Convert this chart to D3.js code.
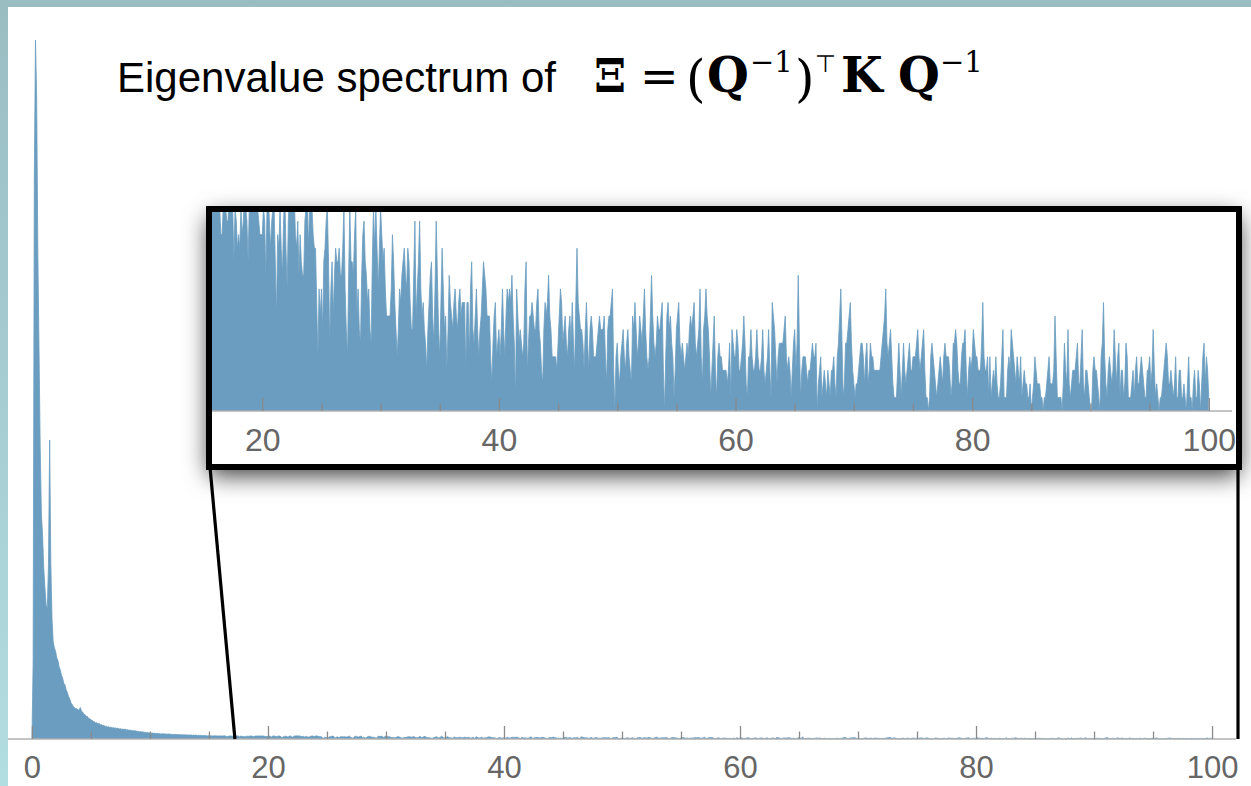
<!DOCTYPE html>
<html>
<head>
<meta charset="utf-8">
<script src="https://cdn.jsdelivr.net/npm/d3@7"></script>
<style>
  html, body { margin: 0; padding: 0; background: #fff; }
  svg { display: block; }
</style>
</head>
<body>
<div id="chart"></div>
<script>
// eigenvalue histogram, bins of width 0.1 starting at 0 (counts per bin)
const binStart = 0;
const binWidth = 0.1;

// 0.0 .. 1.8
const countsSpike = [0, 400, 2900, 3600, 3300, 2500, 2000, 1500, 1160, 1050, 880, 780, 690, 670, 900, 1540, 900, 620, 500];

// 1.9 .. 15.5
const countsDecay = [
  470, 452, 418, 405, 372, 356, 328, 314, 286, 279, 252, 241, 219, 208, 186, 179, 166, 163, 155, 157,
  148, 151, 162, 143, 139, 127, 126, 115, 117, 106, 105, 98, 97, 90, 89, 83, 84, 78, 80, 73,
  74, 69, 70, 65, 66, 62, 63, 59, 61, 57, 59, 56,
  57, 54, 55, 52, 53, 50, 51, 49, 50, 47, 48, 45, 46, 44, 43,
  44, 41, 42, 39, 40, 37, 38, 36, 37, 34, 35, 33, 34, 31, 32,
  30, 31, 29, 30, 28, 29, 27, 28, 26, 27, 26, 27, 25, 26,
  25, 26, 24, 25, 23, 24, 23, 24, 22, 23, 22, 23, 21, 22, 21, 22, 21,
  20, 21, 20, 21, 19, 20, 19, 20, 18, 19, 18, 19, 17, 18, 17, 18, 17,
  16, 17, 16, 17, 16, 16, 17
];

// 15.6 .. 37.0
const countsA = [
  16, 16, 16, 16, 16, 15, 16, 17, 15, 13,
  13, 15, 16, 15, 14, 14, 16, 15, 16, 15,
  11, 15, 14, 12, 13, 12, 15, 13, 14, 16,
  15, 14, 11, 15, 16, 15, 16, 16, 15, 16,
  15, 14, 13, 13, 13, 15, 14, 10, 15, 16,
  14, 12, 14, 15, 15, 11, 7, 13, 12, 15,
  12, 10, 14, 16, 12, 9, 14, 16, 16, 17,
  15, 16, 13, 12, 14, 10, 13, 11, 10, 10,
  14, 15, 16, 12, 15, 16, 15, 13, 12, 12,
  8, 4, 9, 7, 9, 6, 11, 12, 14, 15,
  11, 5, 9, 11, 7, 10, 12, 11, 11, 12,
  10, 10, 12, 15, 9, 6, 4, 10, 15, 11,
  11, 10, 13, 15, 7, 9, 6, 5, 10, 13,
  14, 11, 10, 8, 9, 6, 5, 11, 15, 12,
  15, 12, 9, 12, 15, 13, 11, 12, 9, 7,
  7, 7, 7, 9, 13, 11, 8, 6, 4, 6,
  9, 8, 10, 11, 12, 10, 9, 12, 11, 8,
  6, 6, 10, 14, 7, 9, 11, 14, 9, 7,
  8, 6, 5, 3, 6, 8, 10, 11, 7, 5,
  9, 14, 10, 6, 4, 8, 12, 9, 6, 7,
  3, 6, 10, 8, 7, 6, 8, 9, 7, 6,
  8, 9, 7, 8, 8
];

// 37.1 .. 59.0
const countsB = [
  8, 3, 8, 8, 4, 9, 11, 6, 5, 7,
  9, 6, 4, 6, 7, 9, 11, 10, 9, 7,
  7, 7, 4, 2, 5, 7, 8, 4, 5, 6,
  4, 6, 9, 6, 4, 7, 9, 8, 9, 8,
  10, 7, 5, 1, 9, 7, 5, 6, 5, 4,
  5, 9, 11, 3, 5, 7, 7, 8, 7, 6,
  6, 8, 9, 6, 5, 3, 2, 6, 8, 7,
  8, 10, 7, 6, 4, 4, 4, 4, 3, 5,
  7, 9, 8, 5, 6, 7, 5, 4, 6, 7,
  5, 8, 5, 3, 8, 12, 8, 7, 6, 6,
  5, 3, 6, 8, 5, 3, 6, 7, 6, 4,
  4, 4, 5, 6, 7, 6, 6, 6, 7, 4,
  2, 6, 7, 7, 8, 9, 3, 0, 4, 5,
  3, 2, 4, 5, 6, 4, 3, 5, 6, 4,
  3, 2, 7, 6, 8, 6, 4, 5, 7, 6,
  5, 7, 9, 6, 4, 3, 4, 7, 10, 7,
  5, 4, 5, 7, 6, 6, 7, 8, 3, 0,
  4, 7, 8, 6, 7, 5, 4, 1, 3, 6,
  7, 8, 5, 4, 5, 4, 3, 4, 5, 4,
  6, 7, 6, 7, 8, 5, 4, 5, 6, 9,
  4, 2, 6, 7, 9, 7, 6, 4, 1, 3,
  5, 7, 3, 1, 4, 5, 4, 4, 3, 3
];

// 59.1 .. 81.0
const countsC = [
  3, 3, 2, 3, 5, 1, 6, 5, 4, 4,
  6, 5, 3, 3, 4, 5, 7, 5, 2, 1,
  4, 4, 6, 4, 3, 3, 4, 6, 4, 3,
  3, 4, 6, 3, 2, 3, 4, 6, 3, 1,
  8, 7, 6, 4, 2, 4, 5, 5, 5, 5,
  6, 7, 4, 3, 4, 3, 1, 3, 5, 6,
  3, 5, 10, 5, 1, 3, 4, 4, 4, 3,
  2, 3, 3, 4, 5, 4, 4, 5, 0, 2,
  3, 4, 1, 2, 3, 2, 1, 3, 2, 1,
  3, 3, 4, 2, 1, 4, 5, 7, 9, 5,
  1, 2, 5, 5, 6, 7, 8, 5, 3, 2,
  1, 2, 2, 3, 4, 5, 5, 4, 2, 4,
  5, 2, 3, 5, 4, 4, 3, 3, 3, 3,
  3, 3, 4, 5, 6, 7, 9, 5, 4, 5,
  6, 4, 2, 1, 1, 1, 3, 5, 3, 1,
  3, 5, 3, 2, 3, 4, 5, 3, 3, 4,
  4, 4, 5, 6, 4, 3, 4, 5, 6, 3,
  1, 1, 0, 1, 4, 5, 4, 3, 2, 1,
  2, 3, 4, 3, 2, 4, 5, 4, 4, 4,
  3, 1, 2, 5, 5, 6, 5, 3, 2, 2,
  4, 5, 5, 6, 3, 1, 3, 4, 3, 4,
  6, 5, 4, 4, 3, 3, 3, 5, 8, 4
];

// 81.1 .. 100.0
const countsD = [
  3, 3, 4, 1, 4, 1, 2, 3, 2, 4,
  2, 1, 1, 2, 4, 6, 1, 1, 1, 3,
  4, 3, 6, 5, 4, 3, 2, 4, 3, 2,
  4, 1, 2, 3, 2, 2, 1, 1, 2, 0,
  1, 2, 4, 3, 2, 2, 2, 1, 1, 0,
  1, 1, 2, 3, 4, 2, 2, 2, 3, 7,
  4, 1, 1, 1, 1, 0, 2, 5, 3, 2,
  6, 2, 1, 2, 3, 3, 3, 4, 5, 2,
  2, 4, 6, 2, 1, 3, 3, 2, 1, 0,
  0, 3, 4, 3, 3, 2, 1, 0, 4, 5,
  8, 4, 2, 1, 3, 4, 3, 2, 3, 6,
  4, 2, 4, 5, 1, 3, 3, 1, 2, 5,
  4, 1, 1, 1, 2, 3, 1, 3, 4, 2,
  2, 3, 4, 3, 2, 1, 1, 3, 3, 4,
  2, 3, 6, 3, 1, 2, 1, 0, 1, 1,
  2, 3, 4, 5, 4, 2, 2, 3, 2, 1,
  2, 4, 1, 1, 3, 3, 1, 1, 2, 1,
  0, 2, 4, 1, 1, 0, 2, 3, 1, 1,
  3, 2, 0, 2, 4, 5, 2, 4, 3, 1
];

const mainTicks = [0, 20, 40, 60, 80, 100];
const insetTicks = [20, 40, 60, 80, 100];
const minorTicks = d3.range(0, 101, 5).filter((v) => v % 20 !== 0);

const mainXDomain = [-2.03, 102.03];
const mainYMax = 3600;
const insetXDomain = [15.75, 102.3];
const insetYMax = 14.67;
const zoomFrom = 17.2;
const zoomTo = 102.2;

const titleText = "Eigenvalue spectrum of";

const width = 1251;
const height = 786;
const blue = "#6a9dc0";
const tickGrey = "#8a8a8a";
const labelGrey = "#666666";
const sans = "'Liberation Sans', Arial, Helvetica, sans-serif";
const serif = "'DejaVu Serif', 'Liberation Serif', serif";

const counts = [].concat(countsSpike, countsDecay, countsA, countsB, countsC, countsD);
const series = counts.map((c, i) => ({ x: binStart + i * binWidth, y: c }));

const svg = d3.select("#chart").append("svg").attr("width", width).attr("height", height);
const defs = svg.append("defs");

// page background with the teal frame
const bg = defs.append("linearGradient").attr("id", "bg").attr("x1", 0).attr("y1", 0).attr("x2", 0).attr("y2", 1);
bg.append("stop").attr("offset", "0%").attr("stop-color", "#9abdc2");
bg.append("stop").attr("offset", "100%").attr("stop-color", "#b2dde1");
svg.append("rect").attr("width", width).attr("height", height).attr("fill", "url(#bg)");
svg.append("rect").attr("x", 8).attr("y", 7).attr("width", width - 8).attr("height", height - 7).attr("fill", "#fff");

const shadow = defs.append("filter").attr("id", "shadow")
  .attr("x", "-10%").attr("y", "-40%").attr("width", "120%").attr("height", "190%");
shadow.append("feDropShadow").attr("dx", 0).attr("dy", 8).attr("stdDeviation", 12)
  .attr("flood-color", "#000").attr("flood-opacity", 0.8);

// main plot
const mainX = d3.scaleLinear().domain(mainXDomain).range([8, 1236]);
const mainY = d3.scaleLinear().domain([0, mainYMax]).range([739, 40]);

const mainArea = d3.area().x((d) => mainX(d.x)).y0(mainY(0)).y1((d) => mainY(d.y));
const mainLine = d3.line().x((d) => mainX(d.x)).y((d) => mainY(d.y));

svg.append("path").datum(series).attr("d", mainArea).attr("fill", blue);
svg.append("path").datum(series).attr("d", mainLine).attr("fill", "none")
  .attr("stroke", blue).attr("stroke-width", 0.8);

function drawAxis(g, x, ticks, fontSize, lineFrom, lineTo) {
  g.append("line").attr("x1", lineFrom).attr("x2", lineTo).attr("y1", 0).attr("y2", 0)
    .attr("stroke", "#b0b0b0").attr("stroke-width", 1.6);
  const major = g.append("g").call(d3.axisBottom(x).tickValues(ticks).tickSize(-13).tickSizeOuter(0).tickPadding(17));
  const minor = g.append("g").call(d3.axisBottom(x).tickValues(minorTicks).tickSize(-7.5).tickSizeOuter(0).tickFormat(""));
  [major, minor].forEach((a) => {
    a.select(".domain").remove();
    a.selectAll(".tick line").attr("stroke", tickGrey).attr("stroke-width", 1.3);
  });
  major.selectAll(".tick text").attr("fill", labelGrey).attr("font-family", sans).attr("font-size", fontSize);
}

const mainAxis = svg.append("g").attr("transform", `translate(0,${mainY(0)})`);
drawAxis(mainAxis, mainX, mainTicks, 31, 8, 1236);

// connector lines from the zoomed range to the inset
const insetBox = { x: 209, y: 209, w: 1030, h: 258 };
svg.append("line")
  .attr("x1", mainX(zoomFrom)).attr("y1", mainY(0))
  .attr("x2", insetBox.x + 1).attr("y2", insetBox.y + insetBox.h)
  .attr("stroke", "#000").attr("stroke-width", 3.2);
svg.append("line")
  .attr("x1", mainX(zoomTo)).attr("y1", mainY(0))
  .attr("x2", mainX(zoomTo)).attr("y2", insetBox.y + insetBox.h)
  .attr("stroke", "#000").attr("stroke-width", 3.2);

// inset
svg.append("rect")
  .attr("x", insetBox.x).attr("y", insetBox.y).attr("width", insetBox.w).attr("height", insetBox.h)
  .attr("fill", "#fff").attr("filter", "url(#shadow)");

const innerL = insetBox.x + 3, innerT = insetBox.y + 3;
const innerR = insetBox.x + insetBox.w - 3, innerB = insetBox.y + insetBox.h - 3;
defs.append("clipPath").attr("id", "insetClip").append("rect")
  .attr("x", innerL).attr("y", innerT).attr("width", innerR - innerL).attr("height", innerB - innerT);

const insetX = d3.scaleLinear().domain(insetXDomain).range([innerL, innerR]);
const insetY = d3.scaleLinear().domain([0, insetYMax]).range([411, innerT]);

const insetG = svg.append("g").attr("clip-path", "url(#insetClip)");
const insetArea = d3.area().x((d) => insetX(d.x)).y0(insetY(0)).y1((d) => insetY(d.y));
const insetLine = d3.line().x((d) => insetX(d.x)).y((d) => insetY(d.y));
insetG.append("path").datum(series).attr("d", insetArea).attr("fill", blue);
insetG.append("path").datum(series).attr("d", insetLine).attr("fill", "none")
  .attr("stroke", blue).attr("stroke-width", 0.8);

const insetAxis = insetG.append("g").attr("transform", `translate(0,${insetY(0)})`);
drawAxis(insetAxis, insetX, insetTicks, 32, innerL, 1232);

svg.append("rect")
  .attr("x", insetBox.x).attr("y", insetBox.y).attr("width", insetBox.w).attr("height", insetBox.h)
  .attr("fill", "none").attr("stroke", "#000").attr("stroke-width", 6);

// title
svg.append("text").attr("x", 117).attr("y", 92)
  .attr("font-family", sans).attr("font-size", 42).attr("fill", "#000")
  .text(titleText);

// formula, glyph by glyph
const fBase = 92, fSup = 72;
const glyph = (x, y, txt, size, opts = {}) =>
  svg.append("text").attr("x", x).attr("y", y)
    .attr("font-family", opts.family || serif).attr("font-size", size)
    .attr("font-weight", opts.bold ? "bold" : "normal").attr("fill", "#000").text(txt);

glyph(594, fBase, "Ξ", 46, { bold: true });
glyph(640, fBase, "=", 46);
glyph(686, fBase + 4, "(", 50);
glyph(707, fBase, "Q", 48, { bold: true });
glyph(750, fSup, "−1", 29);
glyph(795, fBase + 4, ")", 50);
glyph(815, fSup, "⊤", 24, { family: sans });
glyph(841, fBase, "K", 48, { bold: true });
glyph(898, fBase, "Q", 48, { bold: true });
glyph(940, fSup, "−1", 29);
</script>
</body>
</html>
